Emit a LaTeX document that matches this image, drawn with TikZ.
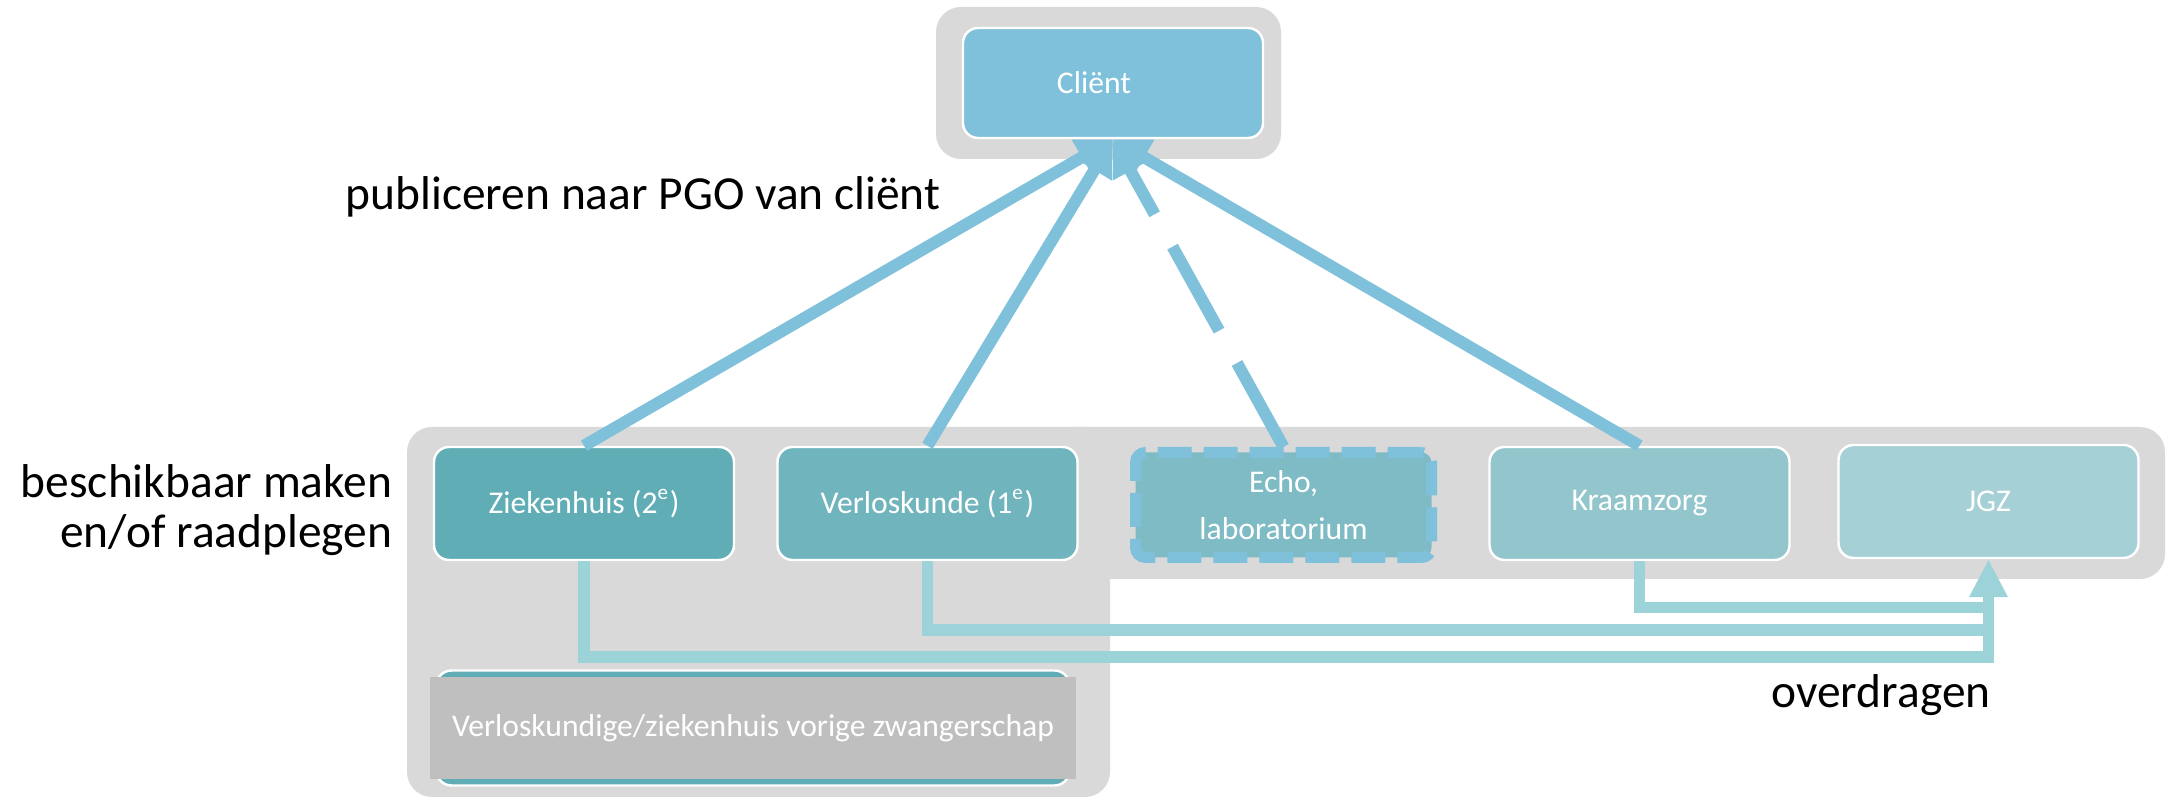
\documentclass[tikz,border=0pt]{standalone}
\usepackage{fontspec}
\setmainfont{Carlito}
\usetikzlibrary{arrows.meta}

\definecolor{panelgray}{HTML}{D9D9D9}
\definecolor{clientblue}{HTML}{7FC0DA}
\definecolor{zkhteal}{HTML}{60ADB5}
\definecolor{vlkteal}{HTML}{70B5BD}
\definecolor{echoteal}{HTML}{7EBBC4}
\definecolor{kraamteal}{HTML}{92C6CC}
\definecolor{jgzteal}{HTML}{A5D0D6}
\definecolor{vorigegray}{HTML}{BFBFBF}
\definecolor{transferteal}{HTML}{9CD3D8}

\begin{document}
\begin{tikzpicture}[
        box/.style = {draw=white, line width=0.7pt, rounded corners=0.15cm, text=white, inner sep=0pt,
            minimum width=3.0cm, minimum height=1.13cm, align=center, font=\fontsize{9}{13.4}\selectfont},
        publish/.style = {clientblue, line width=0.12cm, -{Triangle[width=0.38cm,length=0.36cm]}},
        transfer/.style = {transferteal, line width=0.117cm},
        sidetext/.style = {inner sep=0pt, font=\fontsize{13.5}{14.2}\selectfont}
    ]
                \useasboundingbox (0,0) rectangle (21.67,-8.01);
                \fill[panelgray, rounded corners=0.25cm] (9.36,-0.07) rectangle (12.81,-1.59);
                \fill[panelgray, rounded corners=0.25cm] (4.07,-4.27) rectangle (11.10,-7.97);
                \fill[panelgray, rounded corners=0.25cm] (10.50,-4.27) rectangle (21.65,-5.79);

                \node[box, fill=clientblue, minimum height=1.10cm] (client) at (11.13,-0.83) {Cliënt\hspace*{0.38cm}};
                \node[box, fill=zkhteal] (zkh) at (5.84,-5.035) {Ziekenhuis (2\textsuperscript{e})};
                \node[box, fill=vlkteal] (vlk) at (9.275,-5.035) {Verloskunde (1\textsuperscript{e})};
                \node[box, fill=echoteal, draw=clientblue, line width=0.11cm, dash pattern=on 0.34cm off 0.12cm,
                    rounded corners=0.1cm, minimum width=2.96cm, minimum height=1.05cm] (echo) at (12.835,-5.05) {Echo,\\laboratorium};
                \node[box, fill=kraamteal] (kraam) at (16.395,-5.035) {Kraamzorg};
                \node[box, fill=jgzteal] (jgz) at (19.885,-5.015) {JGZ};
                \node[box, fill=zkhteal, minimum width=6.33cm, minimum height=1.15cm] (vorigeframe) at (7.53,-7.28) {};
                \node[fill=vorigegray, text=white, inner sep=0pt, minimum width=6.46cm, minimum height=1.02cm,
                    font=\fontsize{9}{13.4}\selectfont] (vorige) at (7.53,-7.28) {Verloskundige/ziekenhuis vorige zwangerschap};

                \draw[publish] (zkh.north) -- (client.south);
                \draw[publish] (vlk.north) -- (client.south);
                \draw[publish, dash pattern=on 0.96cm off 0.37cm] (echo.north) -- (client.south);
                \draw[publish] (kraam.north) -- (client.south);

                \coordinate (kraamturn) at (0,-6.075);
                \coordinate (vlkturn) at (0,-6.30);
                \coordinate (zkhturn) at (0,-6.57);
                \draw[transfer] (kraam.south) |- (jgz.south |- kraamturn);
                \draw[transfer] (vlk.south) |- (jgz.south |- vlkturn);
                \draw[transfer, -{Triangle[width=0.36cm,length=0.38cm]}] (zkh.south) |- (jgz.south |- zkhturn) -- (jgz.south);

                \node[sidetext, anchor=base] (publiceren) at (6.43,-2.10) {publiceren naar PGO van cliënt};
                \node[sidetext, anchor=east, align=right] (beschikbaar) at (3.93,-5.105) {beschikbaar maken\\en/of raadplegen};
                \node[sidetext, anchor=base] (overdragen) at (18.81,-7.08) {overdragen};
            \end{tikzpicture}
\end{document}
